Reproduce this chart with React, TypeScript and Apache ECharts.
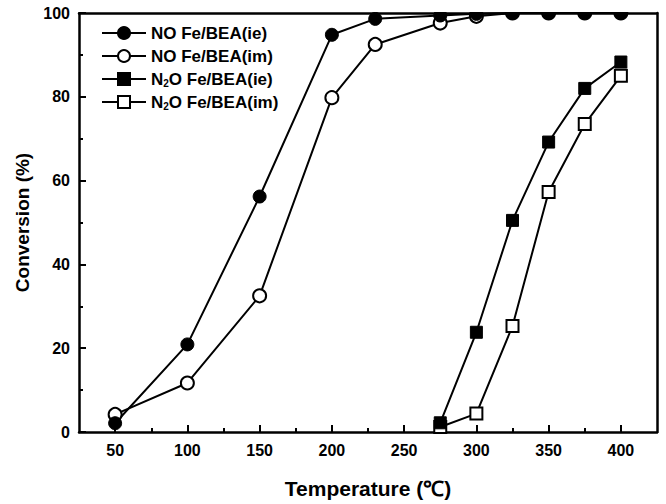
import React, { useEffect, useRef } from 'react';
import * as echarts from 'echarts';

// NO conversion series (temperature in ℃, conversion in %)
const noTemps = [50, 100, 150, 200, 230, 275, 300, 325, 350, 375, 400];
const noIe = [2.1, 20.9, 56.2, 94.8, 98.6, 99.4, 99.8, 100, 100, 100, 100];
const noIm = [4.2, 11.7, 32.5, 79.8, 92.5, 97.6, 99.2, 100, 100, 100, 100];

// N2O conversion series
const n2oTemps = [275, 300, 325, 350, 375, 400];
const n2oIe = [2.2, 23.8, 50.5, 69.2, 82.0, 88.3];
const n2oIm = [1.2, 4.4, 25.3, 57.3, 73.5, 85.0];

// axis ticks
const xMajor = [50, 100, 150, 200, 250, 300, 350, 400];
const xMinor = [75, 125, 175, 225, 275, 325, 375];

const names = ['NO Fe/BEA(ie)', 'NO Fe/BEA(im)', 'N₂O Fe/BEA(ie)', 'N₂O Fe/BEA(im)'];

const pair = (xs: number[], ys: number[]) => xs.map((x, i) => [x, ys[i]]);

export default function App() {
  const ref = useRef<HTMLDivElement>(null);
  useEffect(() => {
    const chart = echarts.init(ref.current!, null, { renderer: 'svg' });
    const font = 'Arial, "Liberation Sans", sans-serif';
    const black = '#000';
    const filled = { color: black, borderColor: black, borderWidth: 1 };
    const open = { color: '#fff', borderColor: black, borderWidth: 2 };
    const line = { color: black, width: 2 };
    chart.setOption({
      animation: false,
      backgroundColor: '#fff',
      grid: { left: 79, right: 9, top: 13, bottom: 68 },
      legend: {
        orient: 'vertical',
        left: 101,
        top: 24,
        padding: 0,
        itemWidth: 44,
        itemHeight: 15,
        itemGap: 5,
        data: names,
        formatter: (n: string) => n.replace('₂', '{sub|2}'),
        textStyle: {
          color: black,
          fontSize: 17,
          fontWeight: 'bold',
          fontFamily: font,
          lineHeight: 18,
          rich: {
            sub: { fontSize: 10, fontWeight: 'bold', fontFamily: font, color: black, verticalAlign: 'bottom', lineHeight: 14 },
          },
        },
      },
      graphic: [
        { type: 'rect', left: 79, top: 0, shape: { width: 578, height: 12 }, style: { fill: '#fff' }, z: 5 },
      ],
      xAxis: [
        {
          type: 'value', position: 'bottom', min: 25, max: 425, interval: 25,
          axisLine: { show: true, onZero: true, lineStyle: { color: black, width: 2.5 } },
          axisTick: { show: true, inside: true, length: 7, customValues: xMajor, lineStyle: { color: black, width: 2 } },
          axisLabel: { customValues: xMajor, margin: 10, color: black, fontSize: 16, fontWeight: 'bold', fontFamily: font },
          splitLine: { show: false },
          name: 'Temperature (℃)', nameLocation: 'middle', nameGap: 46,
          nameTextStyle: { color: black, fontSize: 21, fontWeight: 'bold', fontFamily: font },
        },
        {
          type: 'value', position: 'top', min: 25, max: 425, interval: 25, z: 10,
          axisLine: { show: true, onZero: false, lineStyle: { color: black, width: 2.5 } },
          axisTick: { show: false }, axisLabel: { show: false }, splitLine: { show: false },
        },
        {
          type: 'value', position: 'bottom', min: 25, max: 425, interval: 25,
          axisLine: { show: false, onZero: true },
          axisTick: { show: true, inside: true, length: 4, customValues: xMinor, lineStyle: { color: black, width: 2 } },
          axisLabel: { show: false }, splitLine: { show: false },
        },
      ],
      yAxis: [
        {
          type: 'value', position: 'left', min: 0, max: 100, interval: 20,
          axisLine: { show: true, onZero: false, lineStyle: { color: black, width: 2.5 } },
          axisTick: { show: true, inside: true, length: 7, lineStyle: { color: black, width: 2 } },
          minorTick: { show: true, splitNumber: 2, length: 4, lineStyle: { color: black, width: 2 } },
          axisLabel: { margin: 9, color: black, fontSize: 16, fontWeight: 'bold', fontFamily: font },
          splitLine: { show: false },
          name: 'Conversion (%)', nameLocation: 'middle', nameGap: 42,
          nameTextStyle: { color: black, fontSize: 19, fontWeight: 'bold', fontFamily: font },
        },
        {
          type: 'value', position: 'right', min: 0, max: 100, interval: 20,
          axisLine: { show: true, onZero: false, lineStyle: { color: black, width: 2.5 } },
          axisTick: { show: false }, axisLabel: { show: false }, splitLine: { show: false },
        },
      ],
      series: [
        { type: 'line', name: names[1], data: pair(noTemps, noIm), symbol: 'circle', symbolSize: 13, lineStyle: line, itemStyle: open, clip: false },
        { type: 'line', name: names[0], data: pair(noTemps, noIe), symbol: 'circle', symbolSize: 13, lineStyle: line, itemStyle: filled, clip: false },
        { type: 'line', name: names[3], data: pair(n2oTemps, n2oIm), symbol: 'rect', symbolSize: 12, lineStyle: line, itemStyle: open, clip: false },
        { type: 'line', name: names[2], data: pair(n2oTemps, n2oIe), symbol: 'rect', symbolSize: 12, lineStyle: line, itemStyle: filled, clip: false },
      ],
    });
    return () => chart.dispose();
  }, []);
  return <div ref={ref} style={{ position: 'absolute', left: 0, top: 0, width: 666, height: 504 }} />;
}
